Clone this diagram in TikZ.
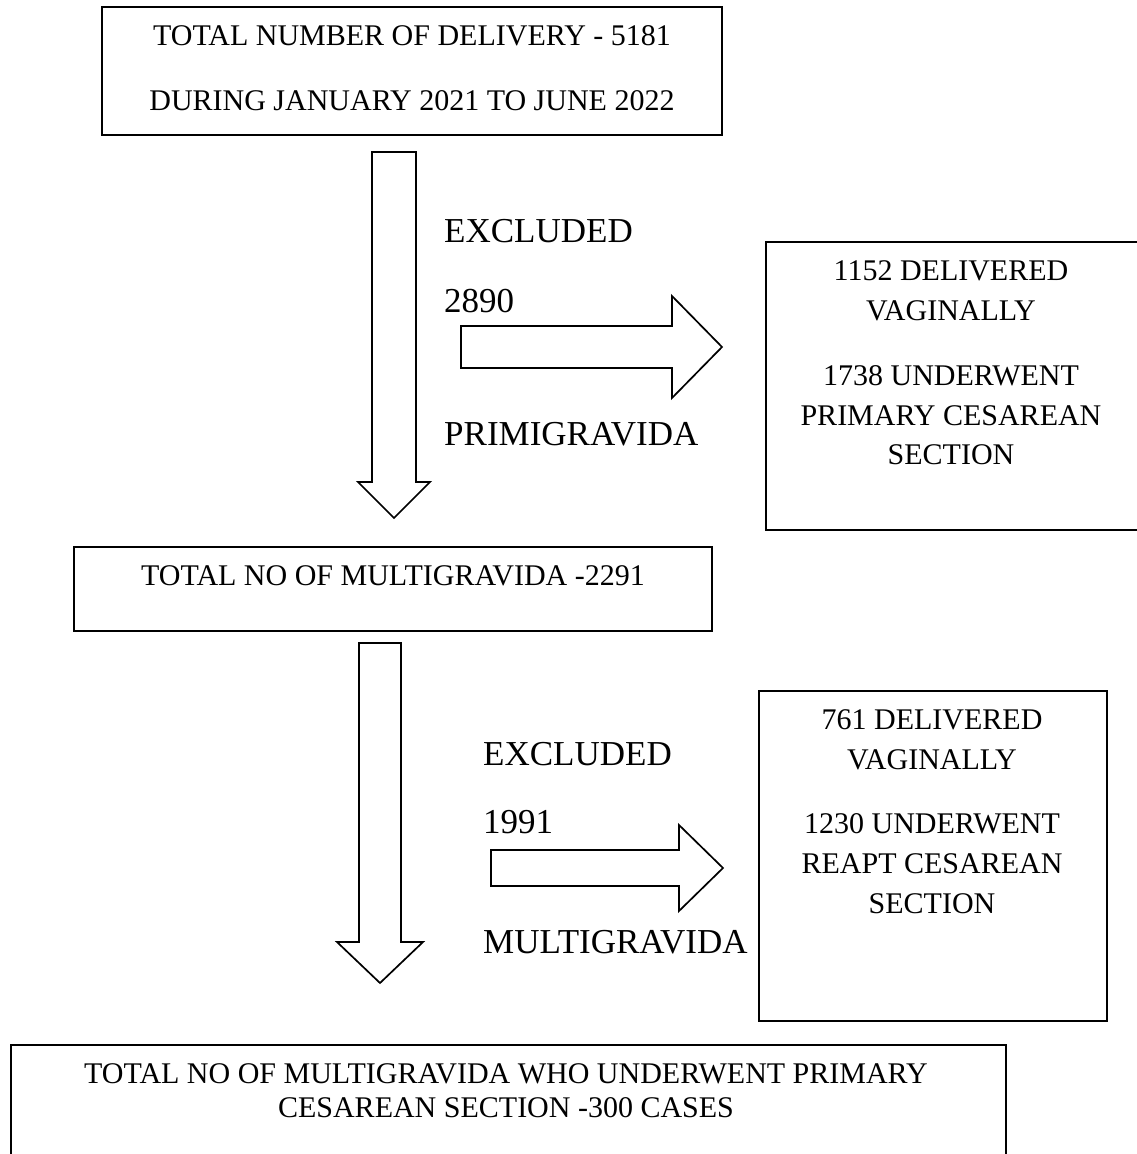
\documentclass[tikz,border=0pt]{standalone}
\usepackage{fontspec}
\setmainfont{Liberation Serif}
\begin{document}
\begin{tikzpicture}[x=1pt,y=-1pt,
  box/.style={draw, line width=2.2pt, inner sep=0pt},
  blockarrow/.style={draw, line width=1.7pt, line join=miter, fill=white},
  boxtext/.style={font=\fontsize{30}{34}\selectfont, anchor=base, inner sep=0pt},
  sidetext/.style={font=\fontsize{35}{40}\selectfont, anchor=base west, inner sep=0pt}]
\useasboundingbox (0,0) rectangle (1136,1154);

% boxes
\node[box, minimum width=620pt, minimum height=128pt] (top) at (412,71) {};
\node[box, minimum width=638pt, minimum height=84pt] (mid) at (393,589) {};
\node[box, minimum width=382pt, minimum height=288pt] (r1) at (957,386) {};
\node[box, minimum width=348pt, minimum height=330pt] (r2) at (933,856) {};
\node[box, minimum width=995pt, minimum height=125pt] (bot) at (508.5,1107.5) {};

% box texts
\node[boxtext] (t1) at (412,45) {TOTAL NUMBER OF DELIVERY - 5181};
\node[boxtext] (t2) at (412,110) {DURING JANUARY 2021 TO JUNE 2022};

\node[boxtext] (m1) at (393,585) {TOTAL NO OF MULTIGRAVIDA -2291};

\node[boxtext] (ra1) at (951,280) {1152 DELIVERED};
\node[boxtext] (ra2) at (951,320) {VAGINALLY};
\node[boxtext] (ra3) at (951,385) {1738 UNDERWENT};
\node[boxtext] (ra4) at (951,425) {PRIMARY CESAREAN};
\node[boxtext] (ra5) at (951,464) {SECTION};

\node[boxtext] (rb1) at (932,729) {761 DELIVERED};
\node[boxtext] (rb2) at (932,769) {VAGINALLY};
\node[boxtext] (rb3) at (932,833) {1230 UNDERWENT};
\node[boxtext] (rb4) at (932,873) {REAPT CESAREAN};
\node[boxtext] (rb5) at (932,913) {SECTION};

\node[boxtext] (b1) at (506,1083) {TOTAL NO OF MULTIGRAVIDA WHO UNDERWENT PRIMARY};
\node[boxtext] (b2) at (506,1117) {CESAREAN SECTION -300 CASES};

% side labels
\node[sidetext] (ex1) at (444,242) {EXCLUDED};
\node[sidetext] (n1) at (444,312) {2890};
\node[sidetext] (pg) at (444,445) {PRIMIGRAVIDA};
\node[sidetext] (ex2) at (483,765) {EXCLUDED};
\node[sidetext] (n2) at (483,833) {1991};
\node[sidetext] (mg) at (483,953) {MULTIGRAVIDA};

% block arrows
\coordinate (d1) at (394,152);
\coordinate (h1) at (461,347);
\coordinate (d2) at (380,643);
\coordinate (h2) at (491,868);

\draw[blockarrow] (d1) ++(-22,0) -- ++(44,0) -- ++(0,330) -- ++(14,0)
  -- ++(-36,36) -- ++(-36,-36) -- ++(14,0) -- cycle;
\draw[blockarrow] (h1) ++(0,-21) -- ++(211,0) -- ++(0,-30) -- ++(50,51)
  -- ++(-50,51) -- ++(0,-30) -- ++(-211,0) -- cycle;
\draw[blockarrow] (d2) ++(-21,0) -- ++(42,0) -- ++(0,299) -- ++(22,0)
  -- ++(-43,41) -- ++(-43,-41) -- ++(22,0) -- cycle;
\draw[blockarrow] (h2) ++(0,-18) -- ++(188,0) -- ++(0,-25) -- ++(44,43)
  -- ++(-44,43) -- ++(0,-25) -- ++(-188,0) -- cycle;
\end{tikzpicture}
\end{document}
